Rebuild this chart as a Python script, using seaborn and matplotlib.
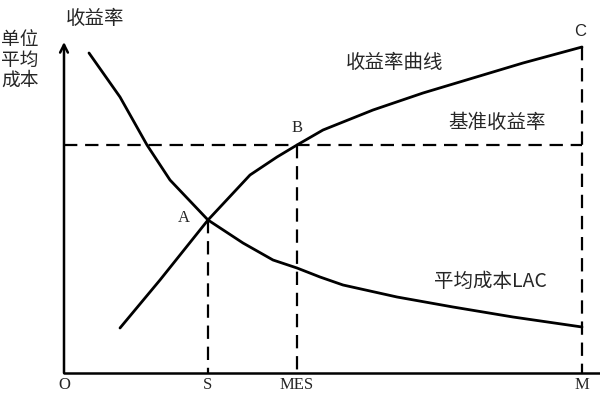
import numpy as np
import pandas as pd
import matplotlib
matplotlib.use("Agg")
import matplotlib.pyplot as plt
import seaborn as sns

# curve points (x = output, y = rate / cost)
return_x = [56, 96, 144, 186, 213, 233, 259, 309, 359, 409, 459, 518]
return_y = [45, 93, 153, 198, 216, 228, 243, 263, 280, 295, 310, 326]
cost_x = [25, 56, 83, 106, 144, 179, 209, 233, 256, 279, 333, 389, 449, 518]
cost_y = [320, 276, 228, 193, 153, 130, 113, 105, 96, 88, 76, 66, 56, 46]

base_rate = 228
x_marks = [0, 144, 233, 518]
x_labels = ["O", "S", "MES", "M"]
point_names = ["A", "B", "C"]
point_x = [144, 233, 518]
point_y = [153, 228, 326]

sns.set_theme(style="white")
plt.rcParams["font.family"] = ["Noto Sans CJK SC", "DejaVu Sans"]

fig = plt.figure(figsize=(6, 4), dpi=100)
ax = fig.add_axes([0, 0, 1, 1])
ax.set_xlim(-64, 536)
ax.set_ylim(-27, 373)
ax.axis("off")

df_ret = pd.DataFrame({"x": return_x, "y": return_y})
df_cost = pd.DataFrame({"x": cost_x, "y": cost_y})
sns.lineplot(data=df_ret, x="x", y="y", sort=False, color="black", lw=2, ax=ax)
sns.lineplot(data=df_cost, x="x", y="y", sort=False, color="black", lw=2, ax=ax)

# axes
ax.plot([0, 536], [0, 0], color="black", lw=1.8)
ax.annotate("", xy=(0, 331), xytext=(0, 0),
            arrowprops=dict(arrowstyle="->", color="black", lw=1.8,
                            mutation_scale=14, shrinkA=0, shrinkB=0))

# dashed guides
dash = (0, (6, 3.5))
ax.plot([0, point_x[2]], [base_rate, base_rate], color="black", lw=1.6, ls=dash)
for px, py in zip(point_x, point_y):
    ax.plot([px, px], [py, 0], color="black", lw=1.6, ls=dash)

# labels
serif = ["Liberation Serif", "DejaVu Serif"]
for xm, lab in zip(x_marks, x_labels):
    ax.text(xm, -12, lab, ha="center", va="center", fontsize=12, family=serif)
ax.text(point_x[0] - 24, point_y[0] + 2, point_names[0], ha="center", va="center",
        fontsize=12, family=serif)
ax.text(point_x[1], point_y[1] + 17, point_names[1], ha="center", va="center",
        fontsize=12, family=serif)
ax.text(point_x[2] - 2, point_y[2] + 16, point_names[2], ha="center", va="center",
        fontsize=12, family=["Liberation Sans", "DejaVu Sans"])

ax.text(31, 354, "收益率", ha="center", va="center", fontsize=14)
ax.text(-63, 313, "单位\n平均\n成本", ha="left", va="center", fontsize=13.5,
        linespacing=0.95)
ax.text(331, 310, "收益率曲线", ha="center", va="center", fontsize=14)
ax.text(433, 250, "基准收益率", ha="center", va="center", fontsize=14)
ax.text(426, 92, "平均成本LAC", ha="center", va="center", fontsize=14)

fig.savefig("out.png", dpi=100)
